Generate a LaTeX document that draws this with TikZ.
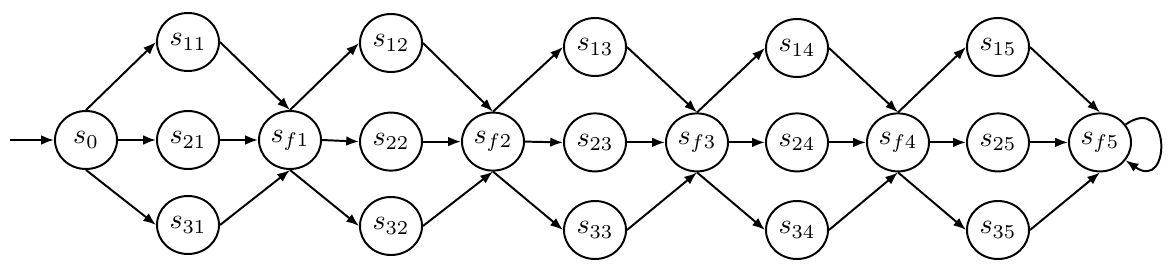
\documentclass[tikz,border=0pt]{standalone}
\usetikzlibrary{shapes.geometric,arrows.meta}

\tikzset{
	zustand/.style={draw, ellipse, minimum width=0.775cm, minimum height=0.725cm, inner sep=0pt},
	pfeil/.style={-{Latex[length=1.6mm,width=1.2mm]}}
}

\begin{document}
\begin{tikzpicture}[line width=0.7pt]
	
	\useasboundingbox (0,0) rectangle (14.6,-3.375);
	
	% ----- Zustaende -----
	\node[zustand] (s0) at (1.075,-1.75) {$s_0$};
	
	\node[zustand] (s11) at (2.35,-0.525) {$s_{11}$};
	\node[zustand] (s21) at (2.35,-1.75) {$s_{21}$};
	\node[zustand] (s31) at (2.35,-2.8125) {$s_{31}$};
	\node[zustand] (sf1) at (3.625,-1.75) {$s_{f1}$};
	
	\node[zustand] (s12) at (4.8875,-0.5375) {$s_{12}$};
	\node[zustand] (s22) at (4.8875,-1.77) {$s_{22}$};
	\node[zustand] (s32) at (4.8875,-2.825) {$s_{32}$};
	\node[zustand] (sf2) at (6.1625,-1.77) {$s_{f2}$};
	
	\node[zustand] (s13) at (7.4375,-0.5875) {$s_{13}$};
	\node[zustand] (s23) at (7.4375,-1.78) {$s_{23}$};
	\node[zustand] (s33) at (7.4375,-2.875) {$s_{33}$};
	\node[zustand] (sf3) at (8.7125,-1.78) {$s_{f3}$};
	
	\node[zustand] (s14) at (9.9625,-0.6) {$s_{14}$};
	\node[zustand] (s24) at (9.9625,-1.78) {$s_{24}$};
	\node[zustand] (s34) at (9.9625,-2.875) {$s_{34}$};
	\node[zustand] (sf4) at (11.225,-1.78) {$s_{f4}$};
	
	\node[zustand] (s15) at (12.475,-0.5875) {$s_{15}$};
	\node[zustand] (s25) at (12.475,-1.78) {$s_{25}$};
	\node[zustand] (s35) at (12.475,-2.875) {$s_{35}$};
	\node[zustand] (sf5) at (13.75,-1.78) {$s_{f5}$};
	
	% Eingang
	\coordinate (start) at (0.125,-1.75);
	\draw[pfeil] (start) -- (s0.west);
	
	% ----- Block 1 -----
	\draw[pfeil] (s0.north) -- (s11.west);
	\draw[pfeil] (s0.east) -- (s21.west);
	\draw[pfeil] (s0.south) -- (s31.west);
	\draw[pfeil] (s11.east) -- (sf1.north);
	\draw[pfeil] (s21.east) -- (sf1.west);
	\draw[pfeil] (s31.east) -- (sf1.south);
	
	% ----- Block 2 -----
	\draw[pfeil] (sf1.north) -- (s12.west);
	\draw[pfeil] (sf1.east) -- (s22.west);
	\draw[pfeil] (sf1.south) -- (s32.west);
	\draw[pfeil] (s12.east) -- (sf2.north);
	\draw[pfeil] (s22.east) -- (sf2.west);
	\draw[pfeil] (s32.east) -- (sf2.south);
	
	% ----- Block 3 -----
	\draw[pfeil] (sf2.north) -- (s13.west);
	\draw[pfeil] (sf2.east) -- (s23.west);
	\draw[pfeil] (sf2.south) -- (s33.west);
	\draw[pfeil] (s13.east) -- (sf3.north);
	\draw[pfeil] (s23.east) -- (sf3.west);
	\draw[pfeil] (s33.east) -- (sf3.south);
	
	% ----- Block 4 -----
	\draw[pfeil] (sf3.north) -- (s14.west);
	\draw[pfeil] (sf3.east) -- (s24.west);
	\draw[pfeil] (sf3.south) -- (s34.west);
	\draw[pfeil] (s14.east) -- (sf4.north);
	\draw[pfeil] (s24.east) -- (sf4.west);
	\draw[pfeil] (s34.east) -- (sf4.south);
	
	% ----- Block 5 -----
	\draw[pfeil] (sf4.north) -- (s15.west);
	\draw[pfeil] (sf4.east) -- (s25.west);
	\draw[pfeil] (sf4.south) -- (s35.west);
	\draw[pfeil] (s15.east) -- (sf5.north);
	\draw[pfeil] (s25.east) -- (sf5.west);
	\draw[pfeil] (s35.east) -- (sf5.south);
	
	% Schleife am Ende
	\draw[pfeil] (sf5) to[out=35, in=-35, looseness=4] (sf5);
	
\end{tikzpicture}
\end{document}
